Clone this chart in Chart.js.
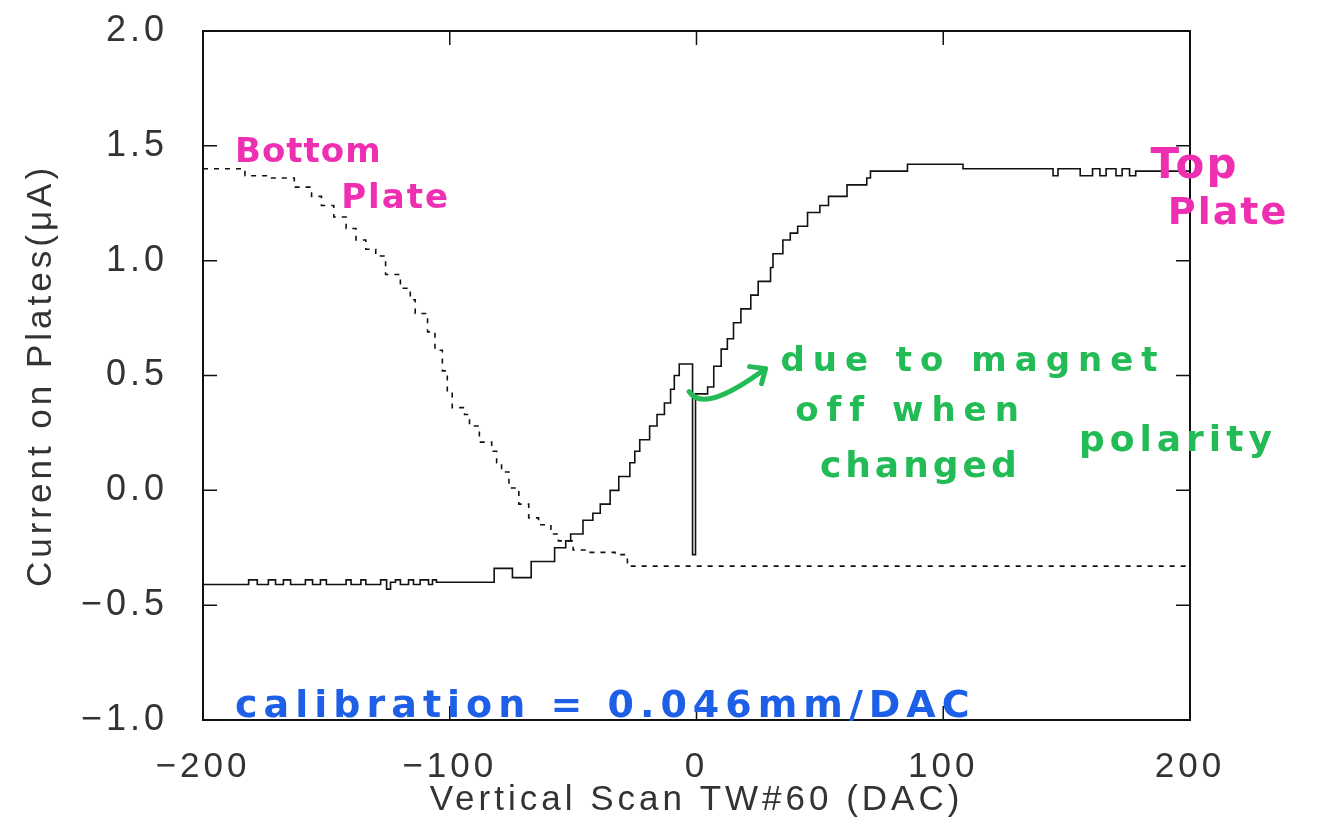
<!DOCTYPE html>
<html>
<head>
<meta charset="utf-8">
<script src="https://cdn.jsdelivr.net/npm/chart.js@4.4.1/dist/chart.umd.min.js"></script>
<style>
    html, body { margin: 0; padding: 0; background: #ffffff; }
    #wrap { width: 1318px; height: 831px; }
</style>
</head>
<body>
<div id="wrap"><canvas id="scanChart"></canvas></div>
<script>

// =====================================
// DATA
// =====================================

const xTicks = [-200, -100, 0, 100, 200];
const yTicks = [-1.0, -0.5, 0.0, 0.5, 1.0, 1.5, 2.0];

// top plate current: step start (DAC) and level (uA)
const topPlateX = [
    -200, -181.5, -178, -173.5, -170.6, -167.4, -164.5, -158.5, -155.6, -152.4,
    -150, -142, -140, -136, -134, -128, -125.6, -124, -122, -120,
    -116.7, -114.7, -112, -108.6, -107, -105.4, -82, -74.6, -67, -57.5,
    -53, -51, -46, -42, -39, -35, -31.5, -27, -25, -23,
    -19, -16, -13, -10.5, -9, -7, -1.6, -0.4, 4.5, 7,
    10, 12.5, 15, 18, 22, 25, 30, 31, 35, 38,
    41, 45, 50, 53.5, 61, 69, 70.5, 85.5, 108, 144.5,
    146.5, 155.5, 160.5, 163.5, 166, 170, 172.5, 175.5, 178, 200
];
const topPlateY = [
    -0.41, -0.39, -0.41, -0.39, -0.41, -0.39, -0.41, -0.39, -0.41, -0.39,
    -0.41, -0.39, -0.41, -0.39, -0.41, -0.39, -0.43, -0.40, -0.39, -0.41,
    -0.39, -0.41, -0.39, -0.41, -0.39, -0.40, -0.34, -0.38, -0.31, -0.25,
    -0.22, -0.19, -0.13, -0.10, -0.06, 0.00, 0.06, 0.12, 0.17, 0.22,
    0.28, 0.33, 0.38, 0.44, 0.50, 0.55, -0.28, 0.42, 0.45, 0.54,
    0.615, 0.66, 0.73, 0.79, 0.85, 0.91, 0.97, 1.03, 1.09, 1.12,
    1.15, 1.21, 1.24, 1.28, 1.33, 1.36, 1.39, 1.42, 1.40, 1.37,
    1.40, 1.37, 1.40, 1.37, 1.40, 1.37, 1.40, 1.37, 1.39, 1.39
];

// bottom plate current: step start (DAC) and level (uA)
const bottomPlateX = [
    -200, -183, -173, -163, -156, -152, -147, -142, -138, -134,
    -130, -126, -120, -116, -114, -109, -106, -103, -101, -99,
    -94, -92, -88, -83, -81, -79, -76, -72, -68, -64,
    -59, -56, -50, -44, -33, -28, 200
];
const bottomPlateY = [
    1.40, 1.37, 1.36, 1.32, 1.28, 1.24, 1.19, 1.14, 1.09, 1.05,
    1.02, 0.94, 0.88, 0.83, 0.77, 0.69, 0.61, 0.52, 0.43, 0.36,
    0.33, 0.28, 0.21, 0.17, 0.12, 0.08, 0.01, -0.06, -0.12, -0.15,
    -0.19, -0.22, -0.26, -0.27, -0.28, -0.33, -0.33
];

const toPoints = (xs, ys) => xs.map((x, i) => ({ x: x, y: ys[i] }));

const fmt = (v, digits) =>
    (v < 0 ? "\u2212" : "") + Math.abs(v).toFixed(digits);

// =====================================
// PLUGIN: frame, inward ticks, handwritten notes
// =====================================

const framePlugin = {
    id: "frame",
    beforeDraw(chart) {
        chart.ctx.letterSpacing = "4px";
    },
    afterDraw(chart) {
        const ctx = chart.ctx;
        const a = chart.chartArea;
        const xs = chart.scales.x;
        const ys = chart.scales.y;

        ctx.save();
        ctx.letterSpacing = "0px";
        ctx.strokeStyle = "#111111";
        ctx.lineWidth = 2;
        ctx.strokeRect(a.left, a.top, a.right - a.left, a.bottom - a.top);

        // inward tick marks
        ctx.lineWidth = 1.5;
        ctx.beginPath();
        yTicks.forEach(v => {
            const py = ys.getPixelForValue(v);
            ctx.moveTo(a.left, py); ctx.lineTo(a.left + 14, py);
            ctx.moveTo(a.right, py); ctx.lineTo(a.right - 14, py);
        });
        xTicks.forEach(v => {
            const px = xs.getPixelForValue(v);
            ctx.moveTo(px, a.bottom); ctx.lineTo(px, a.bottom - 14);
            ctx.moveTo(px, a.top); ctx.lineTo(px, a.top + 14);
        });
        ctx.stroke();

        const note = (text, x, y, color, size, spacing) => {
            ctx.font = "bold " + size + "px 'DejaVu Sans'";
            ctx.letterSpacing = spacing + "px";
            ctx.fillStyle = color;
            ctx.textAlign = "left";
            ctx.textBaseline = "alphabetic";
            ctx.fillText(text, xs.getPixelForValue(x), ys.getPixelForValue(y));
        };

        const pink = "#ee2fb2";
        const green = "#22bb55";
        const blue = "#1d5fe6";

        note("Bottom", -187, 1.43, pink, 34, 1);
        note("Plate", -144, 1.23, pink, 34, 2);
        note("Top", 184, 1.36, pink, 42, 2);
        note("Plate", 191, 1.16, pink, 38, 2);

        note("due to magnet", 34, 0.52, green, 34, 8);
        note("off when", 40, 0.30, green, 34, 8);
        note("polarity", 155, 0.17, green, 36, 5);
        note("changed", 50, 0.06, green, 36, 4);

        note("calibration = 0.046mm/DAC", -187, -0.985, blue, 38, 6);

        // green arrow from the dip to the note
        const x0 = xs.getPixelForValue(-3), y0 = ys.getPixelForValue(0.43);
        const cx = xs.getPixelForValue(3), cy = ys.getPixelForValue(0.33);
        const x1 = xs.getPixelForValue(28), y1 = ys.getPixelForValue(0.53);
        ctx.strokeStyle = green;
        ctx.lineWidth = 5;
        ctx.lineCap = "round";
        ctx.beginPath();
        ctx.moveTo(x0, y0);
        ctx.quadraticCurveTo(cx, cy, x1, y1);
        ctx.moveTo(x1, y1);
        ctx.lineTo(x1 - 16, y1 - 2);
        ctx.moveTo(x1, y1);
        ctx.lineTo(x1 - 4, y1 + 15);
        ctx.stroke();
        ctx.restore();
    }
};

// =====================================
// CHART
// =====================================

new Chart(document.getElementById("scanChart"), {

    type: "line",

    data: {
        datasets: [
            {
                label: "Top Plate",
                data: toPoints(topPlateX, topPlateY),
                stepped: true,
                borderColor: "#111111",
                borderWidth: 1.6,
                pointRadius: 0,
                fill: false
            },
            {
                label: "Bottom Plate",
                data: toPoints(bottomPlateX, bottomPlateY),
                stepped: true,
                borderColor: "#111111",
                borderWidth: 1.6,
                borderDash: [5, 6],
                pointRadius: 0,
                fill: false
            }
        ]
    },

    options: {
        responsive: true,
        maintainAspectRatio: false,
        animation: false,
        layout: {
            padding: { top: 0, right: 128, left: 0, bottom: 0 }
        },
        plugins: {
            legend: { display: false },
            tooltip: { enabled: false }
        },
        scales: {
            x: {
                type: "linear",
                min: -200,
                max: 200,
                afterBuildTicks: s => { s.ticks = xTicks.map(v => ({ value: v })); },
                afterFit: s => { s.height = 111; },
                grid: { display: false, drawTicks: false },
                border: { display: false },
                ticks: {
                    padding: 26,
                    color: "#333333",
                    font: { family: "'Liberation Sans'", size: 35 },
                    callback: v => fmt(v, 0)
                },
                title: {
                    display: true,
                    text: "Vertical Scan TW#60 (DAC)",
                    color: "#333333",
                    font: { family: "'Liberation Sans'", size: 35 },
                    padding: { top: 0, bottom: 10 }
                }
            },
            y: {
                min: -1.0,
                max: 2.0,
                afterBuildTicks: s => { s.ticks = yTicks.map(v => ({ value: v })); },
                afterFit: s => {
                    s.width = 203;
                    s.paddingTop = 31;
                    s.paddingBottom = 0;
                },
                grid: { display: false, drawTicks: false },
                border: { display: false },
                ticks: {
                    padding: 35,
                    color: "#333333",
                    font: { family: "'Liberation Sans'", size: 36 },
                    callback: v => fmt(v, 1)
                },
                title: {
                    display: true,
                    text: "Current on Plates(\u03bcA)",
                    color: "#333333",
                    font: { family: "'Liberation Sans'", size: 35 },
                    padding: { top: 20, bottom: 0 }
                }
            }
        }
    },

    plugins: [framePlugin]
});

</script>
</body>
</html>
